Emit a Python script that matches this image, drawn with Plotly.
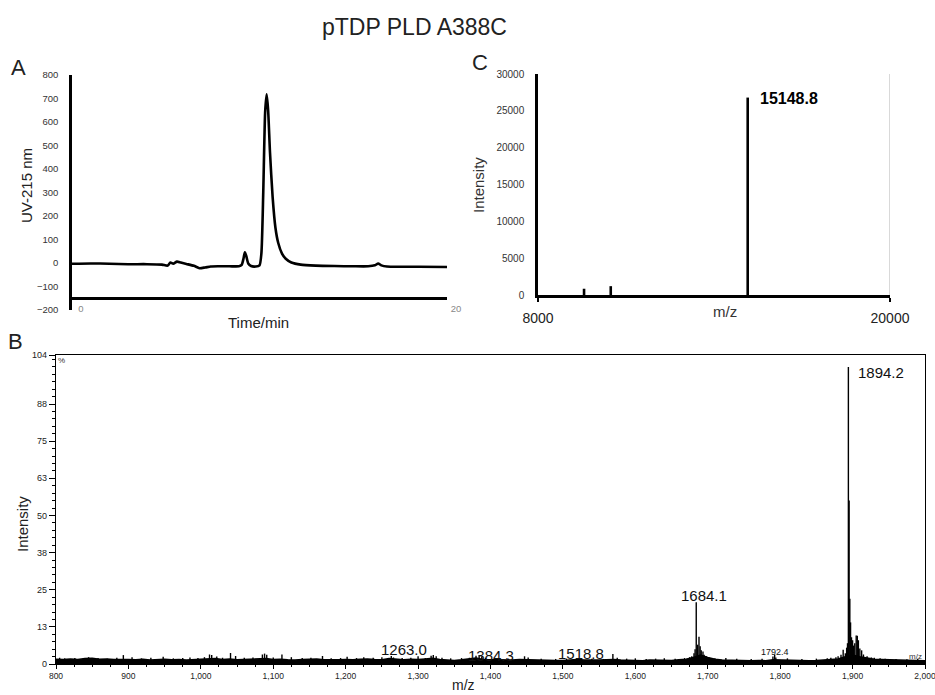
import plotly.graph_objects as go

W, H = 935, 695
FONT = "Liberation Sans, Arial, sans-serif"

# ---- Panel A: RP-HPLC trace (UV 215 nm) ----
hplc_time = [0, 1, 2, 3, 4, 4.8, 5.1, 5.25, 5.4, 5.6, 5.8, 6.1, 6.5, 6.8, 7.1, 7.4, 7.8, 8.4, 8.9,
             9.05, 9.15, 9.22, 9.3, 9.4, 9.55, 9.8, 10.0, 10.1, 10.2, 10.3, 10.38, 10.46, 10.56,
             10.7, 10.85, 11.0, 11.2, 11.4, 11.7, 12.2, 13, 14, 15, 15.8, 16.15, 16.33, 16.5,
             16.8, 17.5, 18.5, 20]
hplc_uv = [-3, -2, -3, -5, -5, -7, -11, 2, -3, 6, 2, -4, -12, -22, -19, -15, -14, -14, -14,
           -8, 20, 46, 28, -2, -13, -15, -10, 40, 300, 640, 718, 650, 470,
           280, 150, 85, 40, 18, 2, -7, -11, -13, -14, -14, -10, -2, -10,
           -15, -16, -16, -17]

# ---- Panel C: deconvoluted mass ----
decon_mass = [9570, 10480, 15148.8]
decon_int = [850, 1200, 26800]

# ---- Panel B: ESI-MS spectrum (relative intensity, %) ----
noise_mz = list(range(800, 2001, 10))
noise_int = [1.6, 1.5, 1.7, 1.5, 1.8, 1.9, 1.6, 1.7, 1.5, 1.6,
             1.5, 1.4, 1.6, 1.3, 1.5, 1.6, 1.4, 1.5, 1.3, 1.4,
             1.5, 1.6, 1.8, 1.5, 1.7, 1.4, 1.5, 1.6, 1.7, 1.8,
             1.5, 1.6, 1.4, 1.3, 1.5, 1.6, 1.7, 1.4, 1.3, 1.4,
             1.5, 1.4, 1.6, 1.7, 1.5, 1.4, 1.8, 1.5, 1.4, 1.6,
             1.5, 1.7, 1.9, 1.5, 1.3, 1.2, 1.4, 1.6, 2.0, 1.5,
             1.4, 1.3, 1.2, 1.3, 1.5, 1.4, 1.3, 1.2, 1.1, 1.2,
             1.2, 1.3, 1.5, 1.3, 1.2, 1.3, 1.4, 1.5, 1.3, 1.2,
             1.2, 1.1, 1.3, 1.2, 1.3, 1.2, 1.4, 1.6, 2.2, 3.0,
             2.2, 1.6, 1.3, 1.2, 1.3, 1.2, 1.1, 1.2, 1.1, 1.4,
             1.3, 1.2, 1.1, 1.2, 1.1, 1.2, 1.3, 1.4, 1.7, 2.4,
             3.0, 2.4, 1.9, 1.6, 1.5, 1.4, 1.3, 1.2, 1.1, 1.2,
             1.1]

peak_mz = [805, 812, 826, 838, 845, 858, 871, 884, 893, 905, 918, 931, 948, 962, 975, 985,
           996, 1005, 1012, 1015, 1022, 1030, 1041, 1048, 1060, 1072, 1085, 1088, 1091, 1100,
           1112, 1125, 1140, 1152, 1168, 1180, 1193, 1202, 1215, 1225, 1238, 1250, 1263, 1266,
           1278, 1290, 1300, 1310, 1318, 1321, 1325, 1333, 1345, 1360, 1371, 1380, 1384.3, 1388,
           1393, 1410, 1425, 1447, 1452, 1470, 1490, 1505, 1518.8, 1523, 1540, 1556, 1569, 1575,
           1588, 1600, 1615, 1628, 1640, 1655, 1668, 1675, 1678, 1681, 1682.5, 1684.1, 1686,
           1687.9, 1689.5, 1691, 1693.4, 1695, 1698, 1702, 1710, 1725, 1740, 1760, 1775, 1790,
           1792.4, 1794, 1810, 1830, 1850, 1865, 1870, 1877, 1880, 1884, 1887, 1890, 1891.8,
           1893, 1894.2, 1895.2, 1896.2, 1897.2, 1898.5, 1900, 1901.5, 1903, 1905, 1906.5,
           1908, 1910, 1912.5, 1915, 1920, 1926, 1930, 1938, 1945, 1960, 1975, 1990]
peak_int = [2.1, 1.9, 2.0, 1.9, 2.3, 2.0, 1.8, 2.1, 3.0, 2.3, 1.9, 2.1, 2.4, 1.9, 2.0, 2.2,
            2.0, 2.3, 3.2, 3.0, 2.5, 2.1, 3.7, 2.7, 2.1, 2.2, 3.2, 3.5, 3.1, 2.2,
            3.2, 2.3, 2.0, 2.1, 2.7, 1.9, 2.0, 2.4, 2.0, 2.3, 2.1, 2.3, 2.7, 2.2,
            2.0, 2.1, 2.6, 2.0, 2.8, 3.0, 2.6, 2.1, 1.9, 2.0, 2.1, 2.8, 3.0, 2.5,
            2.1, 1.9, 1.8, 2.6, 2.2, 1.8, 1.7, 1.8, 1.9, 1.7, 1.8, 1.7, 3.4, 2.1,
            1.8, 1.9, 1.7, 1.8, 1.9, 1.8, 2.0, 2.3, 2.6, 3.6, 5.0, 20.8, 6.5,
            9.2, 6.0, 4.6, 4.2, 3.1, 2.6, 2.1, 1.9, 2.0, 1.8, 1.7, 1.8, 2.5,
            3.2, 2.2, 1.9, 1.7, 1.8, 1.9, 2.1, 2.3, 2.6, 3.1, 4.8, 3.6, 5.5,
            7.0, 100, 55, 22, 14, 9.0, 8.0, 6.2, 7.0, 9.6, 9.5,
            8.0, 5.2, 4.6, 3.2, 2.6, 2.2, 2.1, 1.9, 1.8, 1.7, 1.6, 1.8]

labels_b = ["1263.0", "1384.3", "1518.8", "1684.1", "1894.2"]
labels_b_y = [4.9, 3.0, 3.6, 23.2, 98]
labels_b_shift = [13, 12, 4, 8, 33]

ms_ticks = list(range(800, 2001, 100))


def sticks(xs, ys):
    sx, sy = [], []
    for x, y in zip(xs, ys):
        sx += [x, x, None]
        sy += [0, y, None]
    return sx, sy


def fx(px):
    return px / W


def fy(py):
    return 1 - py / H


fig = go.Figure()

# A
fig.add_trace(go.Scatter(x=hplc_time, y=hplc_uv, mode="lines", line=dict(color="black", width=2.6, shape="spline", smoothing=0.6),
                         xaxis="x", yaxis="y", hoverinfo="skip"))
# C
cx, cy = sticks(decon_mass, decon_int)
fig.add_trace(go.Scatter(x=cx, y=cy, mode="lines", line=dict(color="black", width=2.6),
                         xaxis="x2", yaxis="y2", hoverinfo="skip"))
# B
fig.add_trace(go.Scatter(x=noise_mz, y=noise_int, mode="lines", fill="tozeroy", fillcolor="black",
                         line=dict(color="black", width=1.6), xaxis="x3", yaxis="y3", hoverinfo="skip"))
bx, by = sticks(peak_mz, peak_int)
fig.add_trace(go.Scatter(x=bx, y=by, mode="lines", line=dict(color="black", width=1.4),
                         xaxis="x3", yaxis="y3", hoverinfo="skip"))

common = dict(automargin=False, showgrid=False, zeroline=False)

fig.update_layout(
    template="none",
    width=W, height=H, margin=dict(l=0, r=0, t=0, b=0, pad=0, autoexpand=False),
    paper_bgcolor="white", plot_bgcolor="white", showlegend=False,
    font=dict(family=FONT, color="black"),
    # panel A
    xaxis=dict(domain=[fx(72), fx(447)], range=[0, 20], anchor="free", position=fy(298),
               showline=True, linecolor="black", linewidth=2.5,
               tickmode="array", tickvals=[0, 20], ticks="", ticklabelshift=9, ticklabelstandoff=1,
               tickfont=dict(size=9.5, color="#888888"), **common),
    yaxis=dict(domain=[fy(310), fy(75)], range=[-200, 800], anchor="x",
               showline=True, linecolor="black", linewidth=2.5,
               tickmode="linear", tick0=-200, dtick=100, ticks="", ticklabelstandoff=9,
               tickfont=dict(size=9.5, color="#333333"), **common),
    # panel C
    xaxis2=dict(domain=[fx(538), fx(890)], range=[8000, 20000], anchor="y2",
                showline=True, linecolor="black", linewidth=2.5,
                tickmode="array", tickvals=[8000, 20000], ticktext=["8000", "20000"],
                ticks="outside", ticklen=4, tickwidth=2,
                tickcolor="black", ticklabelstandoff=4, tickfont=dict(size=14, color="#222222"), **common),
    yaxis2=dict(domain=[fy(295), fy(74)], range=[0, 30000], anchor="x2",
                showline=True, linecolor="black", linewidth=2.5,
                tickmode="linear", tick0=0, dtick=5000, tickformat="d", ticks="", ticklabelstandoff=9,
                tickfont=dict(size=10, color="#333333"), **common),
    # panel B
    xaxis3=dict(domain=[fx(56), fx(925)], range=[800, 2000], anchor="y3",
                showline=True, linecolor="black", linewidth=1.2, mirror=True,
                tickmode="array", tickvals=ms_ticks, ticktext=[f"{v:,}" for v in ms_ticks],
                ticks="outside", ticklen=4, ticklabeloverflow="allow",
                tickwidth=1, tickcolor="black", ticklabelstandoff=0,
                minor=dict(tickmode="linear", tick0=800, dtick=25, ticks="outside", ticklen=2, tickcolor="black", showgrid=False),
                tickfont=dict(size=8.5, color="#222222"), **common),
    yaxis3=dict(domain=[fy(664), fy(355)], range=[0, 104], anchor="x3",
                showline=True, linecolor="black", linewidth=1.2, mirror=True,
                tickmode="array", tickvals=[0, 12.5, 25, 37.5, 50, 62.5, 75, 87.5, 104],
                ticktext=["0", "13", "25", "38", "50", "63", "75", "88", "104"],
                ticks="outside", ticklen=6, tickwidth=1, tickcolor="black", ticklabelstandoff=0,
                minor=dict(tickmode="linear", tick0=0, dtick=2.5, ticks="outside", ticklen=3, tickcolor="black", showgrid=False),
                tickfont=dict(size=9, color="#222222"), **common),
)

ann = []


def label(text, px, py, size, color="#222222", angle=0):
    ann.append(dict(text=text, x=fx(px), y=fy(py), xref="paper", yref="paper",
                    xanchor="center", yanchor="middle", textangle=angle,
                    showarrow=False, font=dict(size=size, color=color)))


label("pTDP PLD A388C", 414, 27, 23)
label("A", 18, 67, 22)
label("C", 480, 62, 22)
label("B", 15, 341, 22)
# axis titles
label("UV-215 nm", 26, 186, 15, angle=-90)
label("Time/min", 258, 322, 15)
label("Intensity", 478, 185, 15, "#333333", angle=-90)
label("m/z", 725, 311, 15, "#333333")
label("Intensity", 22, 524, 15, angle=-90)
label("m/z", 463, 685, 14)
label("%", 61, 360, 8, "#333333")
label("m/z", 915, 656, 8, "#333333")

# peak labels
ann.append(dict(text="<b>15148.8</b>", x=decon_mass[2], y=decon_int[2], xref="x2", yref="y2",
                xanchor="left", yanchor="middle", xshift=10, yshift=-1, showarrow=False,
                font=dict(size=16, color="black")))
for t, yv, sh in zip(labels_b, labels_b_y, labels_b_shift):
    ann.append(dict(text=t, x=float(t), y=yv, xref="x3", yref="y3", xshift=sh,
                    xanchor="center", yanchor="middle",
                    showarrow=False, font=dict(size=15, color="#111111")))
ann.append(dict(text="1792.4", x=1792.4, y=4.1, xref="x3", yref="y3",
                xanchor="center", yanchor="middle",
                showarrow=False, font=dict(size=9, color="#111111")))
fig.update_layout(annotations=ann)

# light right-hand border of panel C
fig.add_shape(type="line", xref="x2", yref="y2 domain", x0=20000, x1=20000, y0=0, y1=1,
              line=dict(color="#cccccc", width=1.5), layer="below")

fig.write_html("out.html")
